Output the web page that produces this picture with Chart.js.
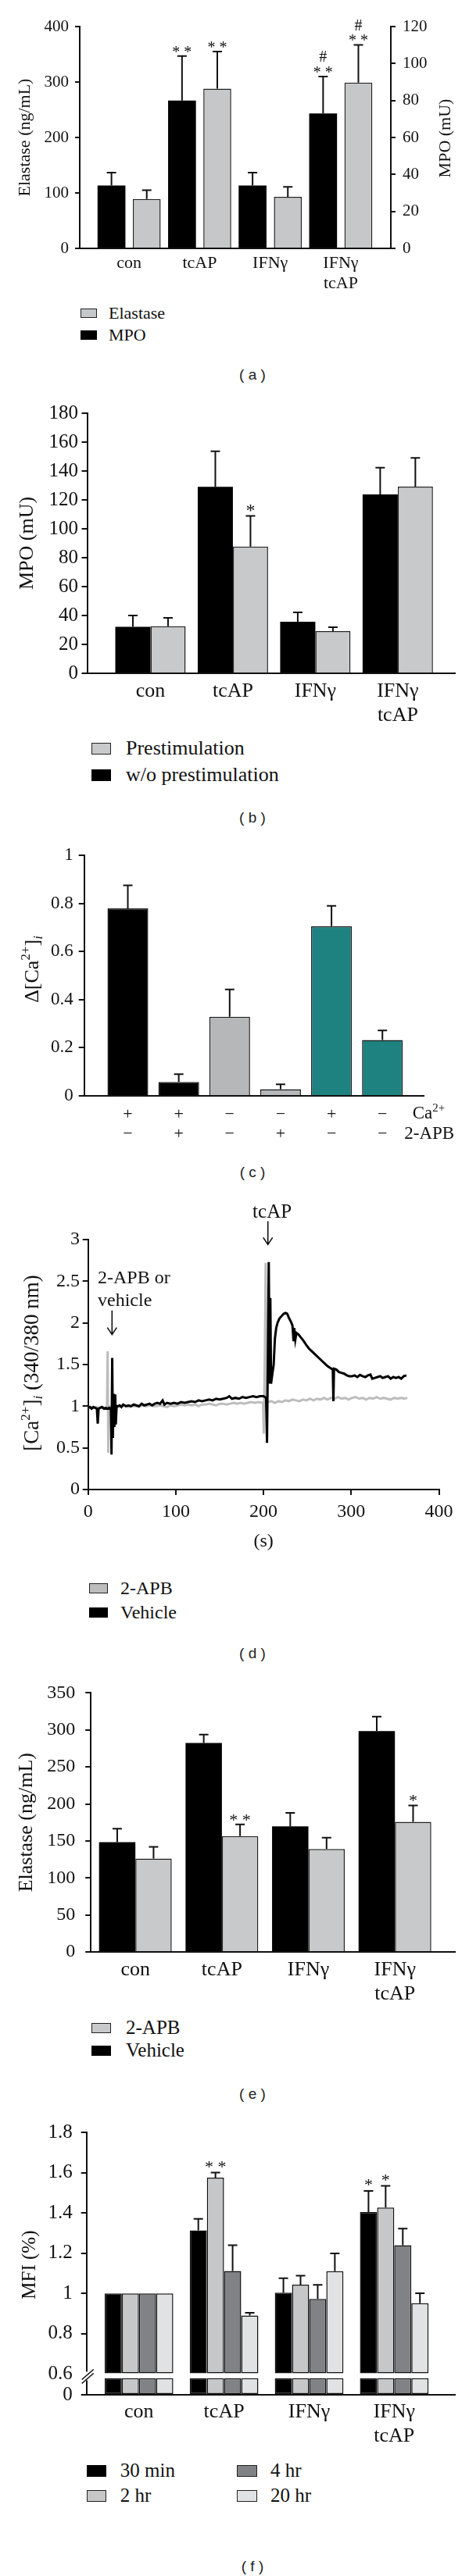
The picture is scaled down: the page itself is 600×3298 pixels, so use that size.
<!DOCTYPE html>
<html>
<head>
<meta charset="utf-8">
<script src="https://cdn.jsdelivr.net/npm/chart.js@4.4.1/dist/chart.umd.min.js"></script>
<style>
  body { margin: 0; background: #fff; }
  #page { position: relative; width: 600px; height: 3298px; overflow: hidden; background: #fff; }
  canvas { position: absolute; left: 0; }
  .lg { position: absolute; font-family: 'Liberation Serif', 'Times New Roman', serif; color: #111; white-space: nowrap; }
  .box { position: absolute; box-sizing: border-box; border: 1.5px solid #222; }
  .cap { position: absolute; font-family: 'Liberation Sans', Arial, sans-serif; font-size: 19px; line-height: 1; color: #222; transform: translate(-50%, -50%); white-space: pre; }
</style>
</head>
<body>
<div id="page"></div>
<script>
const serif = "'Liberation Serif', 'Times New Roman', serif";
Chart.defaults.font.family = serif;
Chart.defaults.color = '#111';

const groupLabels = ['con', 'tcAP', 'IFNγ', ['IFNγ', 'tcAP']];

// (a) elastase (left axis, gray) and MPO (right axis, black)
const mpoA = [34, 80, 34, 73];
const mpoErrA = [7, 24, 7, 20];
const elastaseA = [89, 288, 93, 299];
const elastaseErrA = [16, 67, 18, 68];
const mpoMarksA = [null, ['* *'], null, ['* *', '#']];
const elastaseMarksA = [null, ['* *'], null, ['* *', '#']];

// (b) MPO with / without prestimulation
const woPreB = [32.2, 129, 35.7, 123.8];
const woPreErrB = [7.8, 24.7, 6.4, 18.5];
const preB = [32.6, 87.7, 29.2, 129.2];
const preErrB = [5.8, 21.2, 2.7, 19.9];
const preMarksB = [null, ['*'], null, null];

// (c) delta Ca2+
const caRow = ['+', '+', '−', '−', '+', '−'];
const apbRow = ['−', '+', '−', '+', '−', '−'];
const deltaCa = [0.779, 0.058, 0.329, 0.028, 0.705, 0.232];
const deltaCaErr = [0.096, 0.032, 0.113, 0.020, 0.085, 0.040];
const deltaCaColors = ['#000000', '#000000', '#b5b7b9', '#b5b7b9', '#1e8280', '#1e8280'];

// (d) Ca2+ traces, time in s
const vehT = [0, 2, 4, 6, 8, 10, 11, 12, 14, 16, 18, 20, 22, 24, 26, 26.7, 27.5, 28.3, 29, 30, 31, 31.6, 32.5, 34, 36, 38, 40, 43, 46, 49, 52, 55, 58, 61, 64, 67, 70, 73, 76, 79, 82, 85, 87, 90, 94, 98, 102, 106, 110, 114, 118, 122, 126, 130, 134, 138, 142, 146, 150, 154, 158, 161, 164, 168, 172, 176, 180, 184, 188, 192, 196, 200, 203, 204, 205, 206, 207, 207.8, 208.6, 210, 211.6, 213, 214.5, 216, 218, 220.5, 223, 225, 227, 229, 231, 233, 234.3, 235, 236.3, 237.5, 240, 243, 246, 249, 252, 255, 258, 261, 264, 267, 270, 273, 276, 279, 279.7, 280.4, 283, 286, 289, 292, 295, 298, 301, 304, 307, 310, 313, 316, 319, 322, 324, 327, 330, 333, 336, 339, 342, 345, 348, 351, 354, 357, 360, 363];
const vehV = [0.98, 0.99, 0.97, 0.99, 0.98, 0.97, 0.79, 0.97, 0.98, 0.99, 0.97, 0.98, 0.97, 0.98, 0.97, 0.42, 1.58, 0.62, 1.15, 0.75, 1.14, 0.78, 1.0, 1.0, 1.01, 0.99, 1.02, 1.0, 1.01, 1.0, 1.02, 1.01, 1.0, 1.03, 1.01, 1.02, 1.03, 1.01, 1.03, 1.04, 1.03, 1.07, 1.02, 1.04, 1.03, 1.04, 1.03, 1.05, 1.04, 1.05, 1.06, 1.05, 1.07, 1.06, 1.07, 1.08, 1.07, 1.09, 1.08, 1.09, 1.10, 1.12, 1.09, 1.10, 1.09, 1.11, 1.10, 1.11, 1.12, 1.11, 1.12, 1.12, 1.10, 0.56, 1.6, 2.73, 1.27, 2.3, 1.27, 1.38, 1.5, 1.81, 1.94, 2.0, 2.05, 2.08, 2.11, 2.12, 2.11, 2.06, 2.02, 1.97, 1.78, 1.94, 1.80, 1.88, 1.86, 1.82, 1.78, 1.73, 1.69, 1.66, 1.63, 1.60, 1.57, 1.54, 1.51, 1.48, 1.46, 1.44, 1.06, 1.45, 1.44, 1.41, 1.40, 1.39, 1.37, 1.36, 1.36, 1.37, 1.35, 1.375, 1.36, 1.35, 1.37, 1.38, 1.33, 1.34, 1.35, 1.36, 1.34, 1.35, 1.36, 1.33, 1.35, 1.34, 1.35, 1.33, 1.36, 1.37];
const apbT = [0, 3, 6, 9, 12, 15, 18, 21.5, 22.3, 23, 23.8, 26, 30, 34, 38, 42, 46, 50, 54, 58, 62, 66, 70, 74, 78, 82, 86, 90, 94, 98, 102, 106, 110, 114, 118, 122, 126, 130, 134, 138, 142, 146, 150, 154, 158, 162, 166, 170, 174, 178, 182, 186, 190, 194, 199.5, 200.3, 201.5, 202.5, 203.5, 205, 209, 213, 217, 221, 225, 229, 233, 237, 241, 245, 249, 253, 257, 261, 265, 269, 273, 277, 281, 285, 289, 293, 297, 301, 305, 309, 313, 317, 321, 325, 329, 333, 337, 341, 345, 349, 353, 357, 361, 364];
const apbV = [0.98, 0.99, 0.98, 0.99, 0.98, 0.99, 0.98, 0.98, 1.66, 0.44, 1.0, 0.99, 1.0, 0.99, 1.0, 1.01, 0.99, 1.0, 1.0, 0.99, 1.01, 1.0, 1.01, 1.0, 1.0, 1.01, 1.0, 0.99, 1.01, 1.0, 1.01, 1.02, 1.01, 1.02, 1.01, 1.02, 1.0, 1.02, 1.02, 1.03, 1.02, 1.01, 1.03, 1.03, 1.02, 1.03, 1.04, 1.03, 1.04, 1.03, 1.04, 1.05, 1.04, 1.05, 1.04, 0.67, 1.6, 2.72, 1.02, 1.05, 1.06, 1.04, 1.06, 1.05, 1.07, 1.06, 1.08, 1.07, 1.06, 1.08, 1.07, 1.09, 1.07, 1.09, 1.08, 1.10, 1.08, 1.10, 1.09, 1.11, 1.09, 1.10, 1.08, 1.10, 1.11, 1.09, 1.10, 1.08, 1.10, 1.09, 1.11, 1.09, 1.10, 1.09, 1.08, 1.10, 1.09, 1.10, 1.09, 1.10];

// (e) elastase, vehicle vs 2-APB
const vehicleE = [148.4, 282.4, 169.8, 298.5];
const vehicleErrE = [18.1, 11.2, 18.2, 19.5];
const apbE = [126, 156.6, 139, 175.8];
const apbErrE = [16, 15.6, 15.4, 22.1];
const apbMarksE = [null, ['* *'], null, ['*']];

// (f) MFI over time
const mfiBreak = 0.6;
const min30F = [1.0, 1.313, 1.004, 1.405];
const min30ErrF = [0, 0.058, 0.072, 0.104];
const hr2F = [1.0, 1.575, 1.044, 1.427];
const hr2ErrF = [0, 0.025, 0.045, 0.107];
const hr4F = [1.0, 1.112, 0.973, 1.24];
const hr4ErrF = [0, 0.128, 0.07, 0.082];
const hr20F = [1.0, 0.891, 1.111, 0.952];
const hr20ErrF = [0, 0.013, 0.088, 0.049];

const pts = vals => vals.map((v, i) => ({ x: i + 1, y: v }));
const shortNum = v => String(Math.round(v * 100) / 100);

// error bars + significance marks
Chart.register({
  id: 'errorBars',
  defaults: { cap: 6, markSize: 20, gap: 9, step: 17 },
  afterDatasetsDraw(chart, args, opts) {
    const ctx = chart.ctx;
    chart.data.datasets.forEach((ds, di) => {
      if (!ds.errors && !ds.marks) return;
      const meta = chart.getDatasetMeta(di);
      const yScale = chart.scales[meta.yAxisID];
      meta.data.forEach((bar, i) => {
        const e = ds.errors ? ds.errors[i] : 0;
        const top = yScale.getPixelForValue(ds.data[i].y + e);
        ctx.save();
        ctx.strokeStyle = '#111';
        ctx.lineWidth = 2;
        if (e > 0) {
          ctx.beginPath();
          ctx.moveTo(bar.x, bar.y);
          ctx.lineTo(bar.x, top);
          ctx.moveTo(bar.x - opts.cap, top);
          ctx.lineTo(bar.x + opts.cap, top);
          ctx.stroke();
        }
        const marks = ds.marks ? ds.marks[i] : null;
        if (marks) {
          ctx.fillStyle = '#111';
          ctx.textAlign = 'center';
          ctx.textBaseline = 'alphabetic';
          ctx.font = opts.markSize + 'px ' + serif;
          marks.forEach((m, k) => {
            const c = top - opts.gap - k * opts.step;
            const lift = m.indexOf('*') >= 0 ? 0.47 : 0.34;
            ctx.fillText(m, bar.x, c + lift * opts.markSize);
          });
        }
        ctx.restore();
      });
    });
  }
});

function richText(ctx, parts, x, y, rotate, align) {
  ctx.save();
  ctx.translate(x, y);
  if (rotate) ctx.rotate(rotate);
  let w = 0;
  parts.forEach(p => {
    ctx.font = (p.it ? 'italic ' : '') + p.s + 'px ' + serif;
    p.w = ctx.measureText(p.t).width;
    w += p.w;
  });
  let cx = align === 'left' ? 0 : -w / 2;
  ctx.textAlign = 'left';
  ctx.textBaseline = 'alphabetic';
  ctx.fillStyle = '#111';
  const base = parts[0].s * 0.33;
  parts.forEach(p => {
    ctx.font = (p.it ? 'italic ' : '') + p.s + 'px ' + serif;
    ctx.fillText(p.t, cx, base + (p.dy || 0));
    cx += p.w;
  });
  ctx.restore();
}

function panel(top, plotTop, plotBottom, xh) {
  const c = document.createElement('canvas');
  c.width = 600;
  c.height = Math.round(plotBottom - top + xh);
  c.style.top = top + 'px';
  document.getElementById('page').appendChild(c);
  return c;
}

function yAxis(o) {
  return {
    position: o.position || 'left',
    min: o.min, max: o.max,
    stacked: false,
    afterFit: s => { s.width = o.width; },
    border: { color: '#111', width: 2 },
    grid: { drawOnChartArea: false, color: '#111', lineWidth: 2, tickLength: o.tick || 7 },
    ticks: { stepSize: o.step, autoSkip: false, padding: o.pad, font: { size: o.font }, color: '#111', callback: shortNum },
    title: o.title
      ? { display: true, text: o.title, font: { size: o.titleSize }, padding: { top: o.titlePad, bottom: 0 }, color: '#111' }
      : { display: false }
  };
}

function groupAxis(o) {
  return {
    type: 'linear', min: o.min, max: o.max, bounds: 'data', offset: false,
    afterFit: s => { s.height = o.height; },
    afterBuildTicks: s => { s.ticks = o.labels.map((l, i) => ({ value: i + 1 })); },
    border: { color: '#111', width: 2 },
    grid: { display: false, drawTicks: false },
    ticks: {
      autoSkip: false, maxRotation: 0, padding: o.pad, color: '#111',
      font: { size: o.font, lineHeight: o.lh || 1.2 },
      callback: v => o.labels[Math.round(v) - 1]
    }
  };
}

function baseOptions(pad) {
  return {
    responsive: false, animation: false, devicePixelRatio: 1,
    layout: { padding: pad },
    plugins: { legend: { display: false }, tooltip: { enabled: false } }
  };
}

function legend(items, o) {
  const page = document.getElementById('page');
  items.forEach(it => {
    const b = document.createElement('div');
    b.className = 'box';
    b.style.left = it.bx + 'px';
    b.style.top = (it.y - o.bh / 2) + 'px';
    b.style.width = o.bw + 'px';
    b.style.height = o.bh + 'px';
    b.style.background = it.fill;
    if (it.fill === '#000000') b.style.borderColor = '#000';
    page.appendChild(b);
    const t = document.createElement('div');
    t.className = 'lg';
    t.textContent = it.text;
    t.style.fontSize = o.font + 'px';
    t.style.lineHeight = (o.font * 1.2) + 'px';
    t.style.left = it.tx + 'px';
    t.style.top = (it.y - o.font * 0.6) + 'px';
    page.appendChild(t);
  });
}

function caption(text, y) {
  const d = document.createElement('div');
  d.className = 'cap';
  d.textContent = text;
  d.style.left = '323px';
  d.style.top = y + 'px';
  document.getElementById('page').appendChild(d);
}

// ---------- (a)
{
  const top = 0, plotTop = 34, plotBottom = 318;
  const c = panel(top, plotTop, plotBottom, 60);
  const opt = baseOptions({ top: plotTop - top, right: 0, left: 0, bottom: 0 });
  opt.plugins.errorBars = { cap: 6, markSize: 20, gap: 8.5, step: 17 };
  opt.scales = {
    x: groupAxis({ min: 0.3, max: 4.71, height: 60, labels: groupLabels, pad: 6, font: 22 }),
    y: yAxis({ min: 0, max: 400, step: 100, width: 102, tick: 6, pad: 8, font: 21, title: 'Elastase (ng/mL)', titleSize: 22, titlePad: 19.5 }),
    y1: yAxis({ position: 'right', min: 0, max: 120, step: 20, width: 100, tick: 6, pad: 9, font: 21 })
  };
  new Chart(c, {
    type: 'bar',
    data: {
      datasets: [
        { label: 'MPO', yAxisID: 'y1', data: pts(mpoA), errors: mpoErrA, marks: mpoMarksA,
          backgroundColor: '#000000', borderColor: '#000000', borderWidth: 0,
          categoryPercentage: 1.0, barPercentage: 0.79 },
        { label: 'Elastase', yAxisID: 'y', data: pts(elastaseA), errors: elastaseErrA, marks: elastaseMarksA,
          backgroundColor: '#c6c7c9', borderColor: '#222', borderWidth: 1.5,
          categoryPercentage: 1.0, barPercentage: 0.79 }
      ]
    },
    options: opt,
    plugins: [{
      id: 'rightTitleA',
      afterDraw(chart) { richText(chart.ctx, [{ t: 'MPO (mU)', s: 22 }], 568.5, 177 - top, -Math.PI / 2); }
    }]
  });
  legend([
    { bx: 102.7, tx: 139, y: 401, fill: '#c6c7c9', text: 'Elastase' },
    { bx: 102.7, tx: 139, y: 429, fill: '#000000', text: 'MPO' }
  ], { bw: 21.5, bh: 12.5, font: 22 });
  caption('( a )', 478.6);
}

// ---------- (b)
{
  const top = 490, plotTop = 529, plotBottom = 862;
  const c = panel(top, plotTop, plotBottom, 70);
  const opt = baseOptions({ top: plotTop - top, right: 17.3, left: 0, bottom: 0 });
  opt.plugins.errorBars = { cap: 6, markSize: 24, gap: 11, step: 18 };
  opt.scales = {
    x: groupAxis({ min: 0.232, max: 4.70, height: 70, labels: groupLabels, pad: 7.4, font: 26 }),
    y: yAxis({ min: 0, max: 180, step: 20, width: 111.5, tick: 7, pad: 4.5, font: 25, title: 'MPO (mU)', titleSize: 26, titlePad: 19.8 })
  };
  new Chart(c, {
    type: 'bar',
    data: {
      datasets: [
        { label: 'w/o prestimulation', data: pts(woPreB), errors: woPreErrB,
          backgroundColor: '#000000', borderColor: '#000000', borderWidth: 0,
          categoryPercentage: 0.853, barPercentage: 1.0 },
        { label: 'Prestimulation', data: pts(preB), errors: preErrB, marks: preMarksB,
          backgroundColor: '#c8c9cb', borderColor: '#222', borderWidth: 1.5,
          categoryPercentage: 0.853, barPercentage: 1.0 }
      ]
    },
    options: opt
  });
  legend([
    { bx: 117, tx: 161, y: 958, fill: '#c8c9cb', text: 'Prestimulation' },
    { bx: 117, tx: 161, y: 992, fill: '#000000', text: 'w/o prestimulation' }
  ], { bw: 25, bh: 15, font: 26 });
  caption('( b )', 1046);
}

// ---------- (c)
{
  const top = 1070, plotTop = 1095, plotBottom = 1403;
  const c = panel(top, plotTop, plotBottom, 70);
  const opt = baseOptions({ top: plotTop - top, right: 58, left: 0, bottom: 0 });
  opt.plugins.errorBars = { cap: 6 };
  opt.scales = {
    x: groupAxis({ min: 0.143, max: 6.81, height: 70, labels: caRow.map((s, i) => [s, apbRow[i]]), pad: 11.5, font: 22, lh: 1.14 }),
    y: yAxis({ min: 0, max: 1, step: 0.2, width: 107.7, tick: 7, pad: 7, font: 23 })
  };
  new Chart(c, {
    type: 'bar',
    data: {
      datasets: [
        { label: 'delta', data: pts(deltaCa), errors: deltaCaErr,
          backgroundColor: deltaCaColors, borderColor: '#1a1a1a', borderWidth: 1.5,
          categoryPercentage: 0.8, barPercentage: 1.0 }
      ]
    },
    options: opt,
    plugins: [{
      id: 'textC',
      afterDraw(chart) {
        const ctx = chart.ctx;
        richText(ctx, [{ t: 'Δ[Ca', s: 26 }, { t: '2+', s: 17, dy: -11 }, { t: ']', s: 26 }, { t: 'i', s: 17, it: true, dy: 5 }],
          40.4, 1241 - top, -Math.PI / 2);
        richText(ctx, [{ t: 'Ca', s: 23 }, { t: '2+', s: 15, dy: -9 }], 527.7, 1424 - top, 0, 'left');
        richText(ctx, [{ t: '2-APB', s: 23 }], 517.3, 1450 - top, 0, 'left');
      }
    }]
  });
  caption('( c )', 1500);
}

// ---------- (d)
{
  const top = 1520, plotTop = 1587, plotBottom = 1907;
  const c = panel(top, plotTop, plotBottom, 100);
  const opt = baseOptions({ top: plotTop - top, right: 38.5, left: 0, bottom: 0 });
  opt.scales = {
    x: {
      type: 'linear', min: 0, max: 400, bounds: 'data',
      afterFit: s => { s.height = 100; },
      border: { color: '#111', width: 2 },
      grid: { drawOnChartArea: false, color: '#111', lineWidth: 2, tickLength: 7 },
      ticks: { stepSize: 100, padding: 7, font: { size: 24 }, color: '#111' },
      title: { display: true, text: '(s)', font: { size: 24 }, padding: { top: 0, bottom: 18.6 }, color: '#111' }
    },
    y: yAxis({ min: 0, max: 3, step: 0.5, width: 112.7, tick: 7, pad: 3.7, font: 24 })
  };
  const line = (t, v) => t.map((x, i) => ({ x: x, y: v[i] }));
  new Chart(c, {
    type: 'line',
    data: {
      datasets: [
        { label: 'Vehicle', data: line(vehT, vehV), borderColor: '#000', borderWidth: 3, pointRadius: 0, tension: 0 },
        { label: '2-APB', data: line(apbT, apbV), borderColor: '#bdbdbd', borderWidth: 3, pointRadius: 0, tension: 0 }
      ]
    },
    options: opt,
    plugins: [{
      id: 'textD',
      afterDraw(chart) {
        const ctx = chart.ctx, xs = chart.scales.x, ys = chart.scales.y;
        richText(ctx, [{ t: '[Ca', s: 27 }, { t: '2+', s: 17, dy: -11 }, { t: ']', s: 27 }, { t: 'i', s: 17, it: true, dy: 5 }, { t: ' (340/380 nm)', s: 27 }],
          40.4, 1745 - top, -Math.PI / 2);
        richText(ctx, [{ t: '2-APB or', s: 24 }], xs.getPixelForValue(11), ys.getPixelForValue(2.55), 0, 'left');
        richText(ctx, [{ t: 'vehicle', s: 24 }], xs.getPixelForValue(11), ys.getPixelForValue(2.28), 0, 'left');
        richText(ctx, [{ t: 'tcAP', s: 25 }], xs.getPixelForValue(209.8), ys.getPixelForValue(3.34), 0);
        const arrow = (t, v0, v1) => {
          const x = xs.getPixelForValue(t), y0 = ys.getPixelForValue(v0), y1 = ys.getPixelForValue(v1);
          ctx.save();
          ctx.strokeStyle = '#111';
          ctx.lineWidth = 1.6;
          ctx.beginPath();
          ctx.moveTo(x, y0); ctx.lineTo(x, y1);
          ctx.moveTo(x - 6, y1 - 9); ctx.lineTo(x, y1); ctx.lineTo(x + 6, y1 - 9);
          ctx.stroke();
          ctx.restore();
        };
        arrow(27.3, 2.15, 1.86);
        arrow(205, 3.22, 2.94);
      }
    }]
  });
  legend([
    { bx: 113.5, tx: 154, y: 2033, fill: '#bdbdbd', text: '2-APB' },
    { bx: 113.5, tx: 154, y: 2064, fill: '#000000', text: 'Vehicle' }
  ], { bw: 24, bh: 13, font: 24 });
  caption('( d )', 2115.7);
}

// ---------- (e)
{
  const top = 2140, plotTop = 2167, plotBottom = 2499;
  const c = panel(top, plotTop, plotBottom, 70);
  const opt = baseOptions({ top: plotTop - top, right: 17.3, left: 0, bottom: 0 });
  opt.plugins.errorBars = { cap: 6, markSize: 22, gap: 9.5, step: 18 };
  opt.scales = {
    x: groupAxis({ min: 0.485, max: 4.70, height: 70, labels: groupLabels, pad: 7.4, font: 26 }),
    y: yAxis({ min: 0, max: 350, step: 50, width: 116.2, tick: 7, pad: 13, font: 24, title: 'Elastase (ng/mL)', titleSize: 26, titlePad: 18.2 })
  };
  new Chart(c, {
    type: 'bar',
    data: {
      datasets: [
        { label: 'Vehicle', data: pts(vehicleE), errors: vehicleErrE,
          backgroundColor: '#000000', borderColor: '#000000', borderWidth: 0,
          categoryPercentage: 0.84, barPercentage: 1.0 },
        { label: '2-APB', data: pts(apbE), errors: apbErrE, marks: apbMarksE,
          backgroundColor: '#c8c9ca', borderColor: '#222', borderWidth: 1.5,
          categoryPercentage: 0.84, barPercentage: 1.0 }
      ]
    },
    options: opt
  });
  legend([
    { bx: 117, tx: 161, y: 2596, fill: '#c8c9ca', text: '2-APB' },
    { bx: 117, tx: 161, y: 2625.4, fill: '#000000', text: 'Vehicle' }
  ], { bw: 25, bh: 13, font: 25 });
  caption('( e )', 2679.5);
}

// ---------- (f)
{
  const top = 2700, plotTop = 2730, plotBottom = 3066;
  const c = panel(top, plotTop, plotBottom, 70);
  const opt = baseOptions({ top: plotTop - top, right: 17.3, left: 0, bottom: 0 });
  opt.plugins.errorBars = { cap: 6, markSize: 22, gap: 11, step: 18 };
  const yLow = yAxis({ min: 0, max: 0.75, width: 110.7, tick: 7, pad: 11, font: 25 });
  yLow.stack = 'mfi';
  yLow.stackWeight = 1;
  yLow.afterBuildTicks = s => { s.ticks = [{ value: 0 }]; };
  const yTop = yAxis({ min: mfiBreak, max: 1.8, step: 0.2, width: 110.7, tick: 7, pad: 11, font: 25 });
  yTop.stack = 'mfi';
  yTop.stackWeight = 11.68;
  opt.scales = {
    x: groupAxis({ min: 0.384, max: 4.72, height: 70, labels: groupLabels, pad: 6.4, font: 26 }),
    yLow: yLow,
    yTop: yTop
  };
  const series = [
    { name: '30 min', vals: min30F, errs: min30ErrF, color: '#000000', marks: [null, null, null, ['*']] },
    { name: '2 hr', vals: hr2F, errs: hr2ErrF, color: '#c6c7c8', marks: [null, ['* *'], null, ['*']] },
    { name: '4 hr', vals: hr4F, errs: hr4ErrF, color: '#808285', marks: null },
    { name: '20 hr', vals: hr20F, errs: hr20ErrF, color: '#e1e2e3', marks: null }
  ];
  const datasets = [];
  series.forEach((s, k) => {
    datasets.push({ label: s.name, yAxisID: 'yTop', stack: 's' + k, base: mfiBreak,
      data: pts(s.vals), errors: s.errs, marks: s.marks,
      backgroundColor: s.color, borderColor: '#111', borderWidth: 1.5, borderSkipped: false,
      categoryPercentage: 0.806, barPercentage: 1.0 });
    datasets.push({ label: s.name + ' (axis break)', yAxisID: 'yLow', stack: 's' + k,
      data: pts(s.vals.map(v => Math.min(v, mfiBreak))),
      backgroundColor: s.color, borderColor: '#111', borderWidth: 1.5, borderSkipped: false,
      categoryPercentage: 0.806, barPercentage: 1.0 });
  });
  new Chart(c, {
    type: 'bar',
    data: { datasets: datasets },
    options: opt,
    plugins: [{
      id: 'textF',
      afterDraw(chart) {
        const ctx = chart.ctx;
        richText(ctx, [{ t: 'MFI (%)', s: 25 }], 36.5, 2899.6 - top, -Math.PI / 2);
        const ax = chart.scales.yTop.right, b = chart.scales.yTop.bottom;
        ctx.save();
        ctx.fillStyle = '#fff';
        ctx.fillRect(ax - 9, b - 3, 12, 11);
        ctx.strokeStyle = '#111';
        ctx.lineWidth = 1.6;
        ctx.beginPath();
        ctx.moveTo(ax - 6, b + 7); ctx.lineTo(ax + 9, b - 6);
        ctx.moveTo(ax - 6, b + 12); ctx.lineTo(ax + 9, b - 1);
        ctx.stroke();
        ctx.restore();
      }
    }]
  });
  legend([
    { bx: 110.8, tx: 153.8, y: 3163, fill: '#000000', text: '30 min' },
    { bx: 110.8, tx: 153.8, y: 3195, fill: '#c6c7c8', text: '2 hr' },
    { bx: 303, tx: 346, y: 3163, fill: '#808285', text: '4 hr' },
    { bx: 303, tx: 346, y: 3195, fill: '#e1e2e3', text: '20 hr' }
  ], { bw: 25.7, bh: 15, font: 25 });
  caption('( f )', 3285);
}
</script>
</body>
</html>
